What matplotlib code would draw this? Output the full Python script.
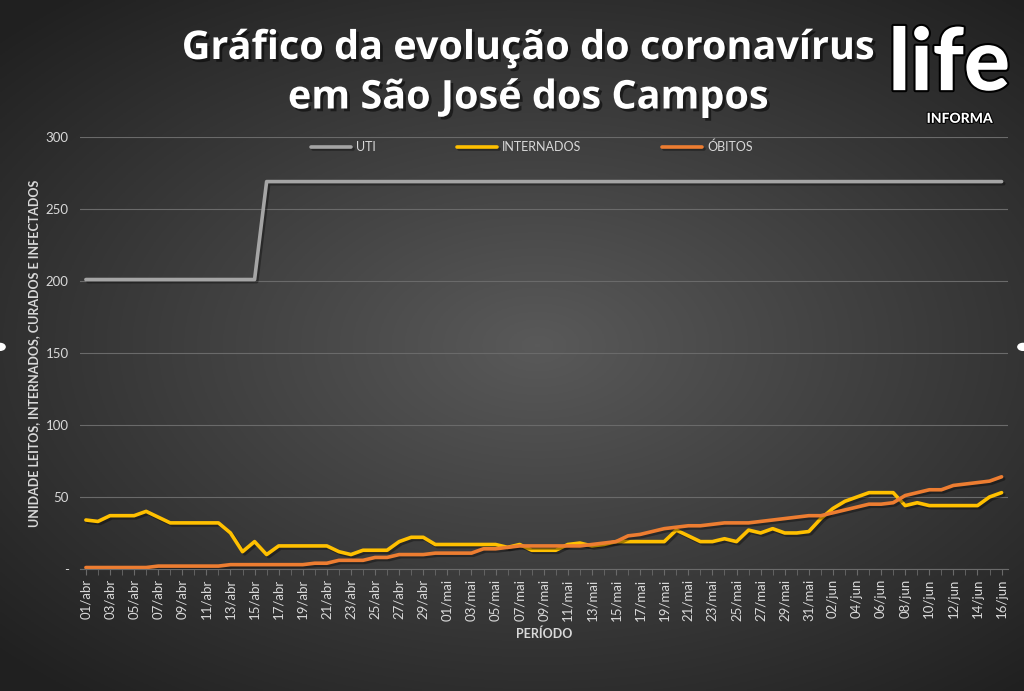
import numpy as np
import pandas as pd
import matplotlib
matplotlib.use('Agg')
import matplotlib.pyplot as plt
import matplotlib.patheffects as pe

plt.rcParams['font.family'] = ['Lato', 'DejaVu Sans']

# dados (01/abr a 16/jun)
meses = {4: 'abr', 5: 'mai', 6: 'jun'}
datas = pd.date_range('2020-04-01', '2020-06-16')
rotulos = [f'{d.day:02d}/{meses[d.month]}' for d in datas]

uti = [201, 201, 201, 201, 201, 201, 201, 201, 201, 201, 201, 201, 201, 201, 201,
       269, 269, 269, 269, 269, 269, 269, 269, 269, 269, 269, 269, 269, 269, 269,
       269, 269, 269, 269, 269, 269, 269, 269, 269, 269, 269, 269, 269, 269, 269,
       269, 269, 269, 269, 269, 269, 269, 269, 269, 269, 269, 269, 269, 269, 269,
       269, 269, 269, 269, 269, 269, 269, 269, 269, 269, 269, 269, 269, 269, 269,
       269, 269]

internados = [34, 33, 37, 37, 37, 40, 36, 32, 32, 32, 32, 32, 25, 12, 19, 10,
              16, 16, 16, 16, 16, 12, 10, 13, 13, 13, 19, 22, 22, 17, 17, 17,
              17, 17, 17, 15, 17, 13, 13, 13, 17, 18, 16, 17, 19, 19, 19, 19,
              19, 27, 23, 19, 19, 21, 19, 27, 25, 28, 25, 25, 26, 35, 42, 47,
              50, 53, 53, 53, 44, 46, 44, 44, 44, 44, 44, 50, 53]

obitos = [1, 1, 1, 1, 1, 1, 2, 2, 2, 2, 2, 2, 3, 3, 3, 3, 3, 3, 3, 4, 4, 6,
          6, 6, 8, 8, 10, 10, 10, 11, 11, 11, 11, 14, 14, 15, 16, 16, 16, 16,
          16, 16, 17, 18, 19, 23, 24, 26, 28, 29, 30, 30, 31, 32, 32, 32, 33,
          34, 35, 36, 37, 37, 39, 41, 43, 45, 45, 46, 51, 53, 55, 55, 58, 59,
          60, 61, 64]

x = np.arange(len(rotulos))

fig = plt.figure(figsize=(10.24, 6.91), dpi=100)

# fundo com gradiente radial
bg = fig.add_axes([0, 0, 1, 1], zorder=0)
gx, gy = np.meshgrid(np.linspace(-1, 1, 400), np.linspace(-1, 1, 300))
r = np.sqrt(((gx - 0.05) / 1.1) ** 2 + ((gy + 0.0) / 1.0) ** 2)
val = 0.35 - 0.17 * np.clip(r, 0, 1.3)
img = np.dstack([val, val, val])
bg.imshow(img, aspect='auto', extent=[0, 1, 0, 1])
bg.axis('off')

ax = fig.add_axes([0.078, 0.1766, 0.906, 0.6252], zorder=1)
ax.patch.set_alpha(0)

sombra = [pe.SimpleLineShadow(offset=(1.5, -1.5), shadow_color='black', alpha=0.35), pe.Normal()]
ax.plot(x, uti, color='#a5a5a5', lw=2.6, label='UTI', path_effects=sombra, solid_capstyle='round')
ax.plot(x, internados, color='#ffc000', lw=2.6, label='INTERNADOS', path_effects=sombra, solid_capstyle='round')
ax.plot(x, obitos, color='#ed7d31', lw=2.6, label='ÓBITOS', path_effects=sombra, solid_capstyle='round')

ax.set_xlim(-0.5, len(x) - 0.5)
ax.set_ylim(0, 300)
ax.set_yticks([0, 50, 100, 150, 200, 250, 300])
ax.set_yticklabels(['-', '50', '100', '150', '200', '250', '300'])
ax.yaxis.grid(True, color='#6a6a6a', lw=0.8)
ax.set_axisbelow(True)

ax.set_xticks(x[::2])
ax.set_xticklabels(rotulos[::2], rotation=90)
ax.set_xticks(x, minor=True)

for s in ['top', 'right', 'left']:
    ax.spines[s].set_visible(False)
ax.spines['bottom'].set_color('#6a6a6a')
ax.tick_params(axis='y', length=0, colors='#d9d9d9', labelsize=9.5, pad=8)
ax.tick_params(axis='x', which='both', length=4, color='#6a6a6a', colors='#d9d9d9', labelsize=9.5, pad=3)
ax.tick_params(axis='x', which='minor', length=4, color='#6a6a6a')

ax.set_xlabel('PERÍODO', color='#d9d9d9', fontsize=9, fontweight='bold', labelpad=5)
ax.set_ylabel('UNIDADE LEITOS, INTERNADOS, CURADOS E INFECTADOS', color='#d9d9d9',
              fontsize=9, fontweight='bold', labelpad=4)

leg = ax.legend(loc='center', bbox_to_anchor=(0.487, 0.977), ncol=3, frameon=False,
                fontsize=9, handlelength=3.2, columnspacing=6.5, handletextpad=0.4)
for t in leg.get_texts():
    t.set_color('#d9d9d9')

fig.text(0.516, 0.894, 'Gráfico da evolução do coronavírus\nem São José dos Campos',
         ha='center', va='center', color='white', fontsize=28.5, fontweight='bold',
         family=['Open Sans', 'DejaVu Sans'], linespacing=1.35,
         path_effects=[pe.withSimplePatchShadow(offset=(2, -2), shadow_rgbFace='black', alpha=0.5)])

# logo
fig.text(0.927, 0.905, 'life', ha='center', va='center', color='white', fontsize=62,
         fontweight='black', path_effects=[pe.Stroke(linewidth=3, foreground='black'), pe.Normal()])
fig.text(0.937, 0.828, 'INFORMA', ha='center', va='center', color='white', fontsize=10,
         fontweight='black', path_effects=[pe.Stroke(linewidth=1.5, foreground='black'), pe.Normal()])

# marcadores de selecao nas bordas
fig.patches.append(plt.Circle((0.0, 0.498), 0.005, transform=fig.transFigure, color='white'))
fig.patches.append(plt.Circle((0.999, 0.498), 0.005, transform=fig.transFigure, color='white'))

fig.savefig('out.png', dpi=100)
